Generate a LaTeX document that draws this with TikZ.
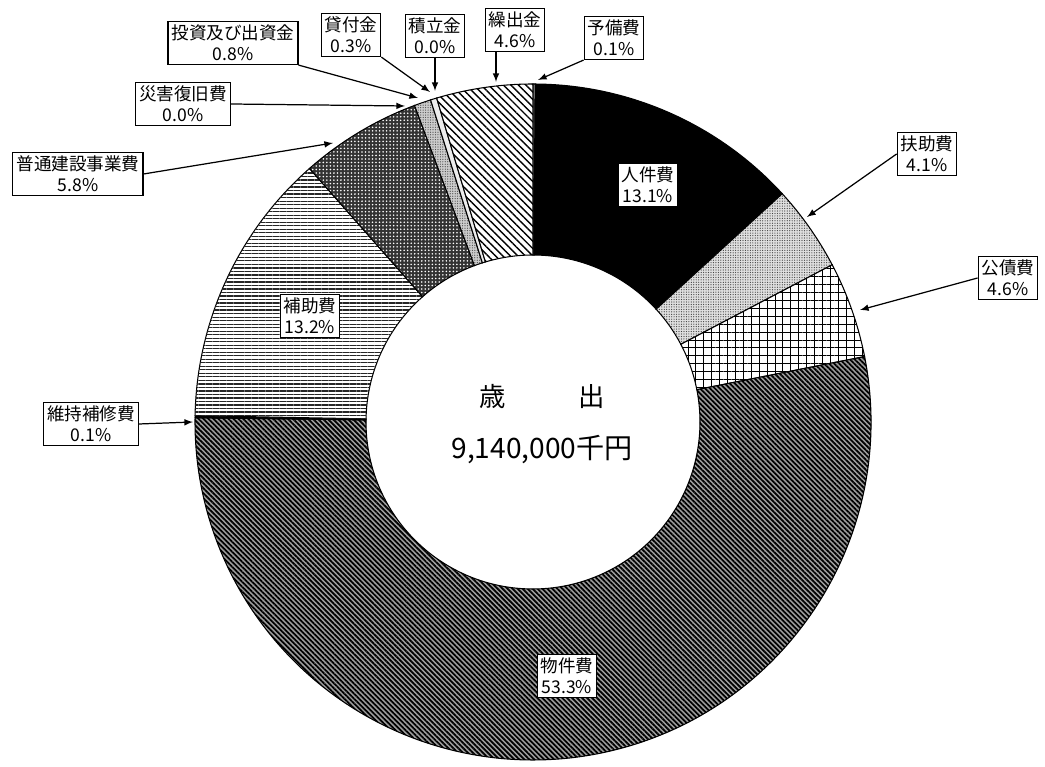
\documentclass[tikz,border=0pt]{standalone}
\usepackage{fontspec}
\setmainfont{Noto Sans CJK JP}
\usetikzlibrary{patterns,patterns.meta}

% one piece of the ring: #1 look, #2 start angle, #3 end angle
\newcommand{\ringpart}[3]{%
  \path[slice,#1] (#2:6.76) arc[start angle=#2, end angle=#3, radius=6.76]
    -- (#3:3.34) arc[start angle=#3, end angle=#2, radius=3.34] -- cycle;}

\begin{document}
\begin{tikzpicture}
  \tikzstyle{slice}=[draw=black, line width=0.6pt]
  \tikzstyle{tag}=[draw, fill=white, align=center, inner sep=2pt, line width=0.6pt,
    font=\fontsize{10}{12}\selectfont]
  \tikzstyle{pointer}=[-latex, line width=0.7pt]
  \useasboundingbox (-10.66,-6.90) rectangle (10.24,8.44);

  % Ring pieces, clockwise from the top
  \ringpart{fill=white}{90}{89.64}
  \ringpart{fill=black}{89.64}{42.48}
  \ringpart{preaction={fill=gray!25}, pattern={Dots[distance=1.4pt,radius=0.35pt]}, pattern color=black!75}{42.48}{27.72}
  \ringpart{fill=white, postaction={pattern={Hatch[angle=0,distance=4.5pt,line width=0.5pt]}}}{27.72}{11.16}
  \ringpart{preaction={fill=gray!75}, pattern={Lines[angle=-45,distance=2pt,line width=1pt]}}{11.16}{-180.72}
  \ringpart{fill=black}{-180.72}{-181.08}
  \ringpart{fill=white, postaction={pattern={Lines[angle=0,distance=2pt,line width=0.7pt]}, pattern color=black!85}}{-181.08}{-228.6}
  \ringpart{preaction={fill=black!80}, pattern={Dots[distance=2pt,radius=0.5pt]}, pattern color=white}{-228.6}{-249.48}
  \ringpart{preaction={fill=gray!40}, pattern={Dots[distance=1.4pt,radius=0.35pt]}, pattern color=black!70}{-249.48}{-252.36}
  \ringpart{fill=gray!15}{-252.36}{-253.44}
  \ringpart{fill=white, postaction={pattern={Lines[angle=-45,distance=3pt,line width=0.8pt]}}}{-253.44}{-270}

  % Centre text
  \node (title) at (0.19,0.50) {\fontsize{15}{18}\selectfont 歳\hspace{1.45cm}出};
  \node (total) at (0.18,-0.56) {\fontsize{16}{19}\selectfont 9,140,000千円};

  % Labels inside the ring
  \node[tag] (jinken) at (2.30,4.74) {人件費\\13.1\%};
  \node[tag] (hojo) at (-4.46,2.12) {補助費\\13.2\%};
  \node[tag] (bukken) at (0.68,-5.08) {物件費\\53.3\%};

  % Labels outside the ring
  \node[tag] (toushi) at (-6.00,7.58) {投資及び出資金\\0.8\%};
  \node[tag] (saigai) at (-7.00,6.36) {災害復旧費\\0.0\%};
  \node[tag] (futsuu) at (-9.10,4.96) {普通建設事業費\\5.8\%};
  \node[tag] (kashi) at (-3.64,7.74) {貸付金\\0.3\%};
  \node[tag] (tsumitate) at (-1.96,7.72) {積立金\\0.0\%};
  \node[tag] (kuridashi) at (-0.36,7.84) {繰出金\\4.6\%};
  \node[tag] (yobi) at (1.62,7.68) {予備費\\0.1\%};
  \node[tag] (fujo) at (7.88,5.36) {扶助費\\4.1\%};
  \node[tag] (kousai) at (9.50,2.88) {公債費\\4.6\%};
  \node[tag] (iji) at (-8.84,-0.04) {維持補修費\\0.1\%};

  % Arrow ends on the ring
  \coordinate (toushi-end) at (-2.30,6.48);
  \coordinate (saigai-end) at (-2.56,6.32);
  \coordinate (futsuu-end) at (-4.00,5.58);
  \coordinate (kashi-end) at (-2.06,6.60);
  \coordinate (tsumitate-end) at (-1.96,6.62);
  \coordinate (kuridashi-end) at (-0.74,6.80);
  \coordinate (yobi-end) at (0.10,6.84);
  \coordinate (fujo-end) at (5.48,4.10);
  \coordinate (kousai-end) at (6.54,2.24);
  \coordinate (iji-end) at (-6.80,0);

  % Connectors
  \draw[pointer] (toushi.south east) -- (toushi-end);
  \draw[pointer] (saigai.east) -- (saigai-end);
  \draw[pointer] (futsuu.east) -- (futsuu-end);
  \draw[pointer] (kashi.south east) -- (kashi-end);
  \draw[pointer] (tsumitate.south) -- (tsumitate-end);
  \draw[pointer] ([xshift=-0.38cm]kuridashi.south) -- (kuridashi-end);
  \draw[pointer] (yobi.south west) -- (yobi-end);
  \draw[pointer] (fujo.west) -- (fujo-end);
  \draw[pointer] (kousai.west) -- (kousai-end);
  \draw[pointer] (iji.east) -- (iji-end);
\end{tikzpicture}
\end{document}
